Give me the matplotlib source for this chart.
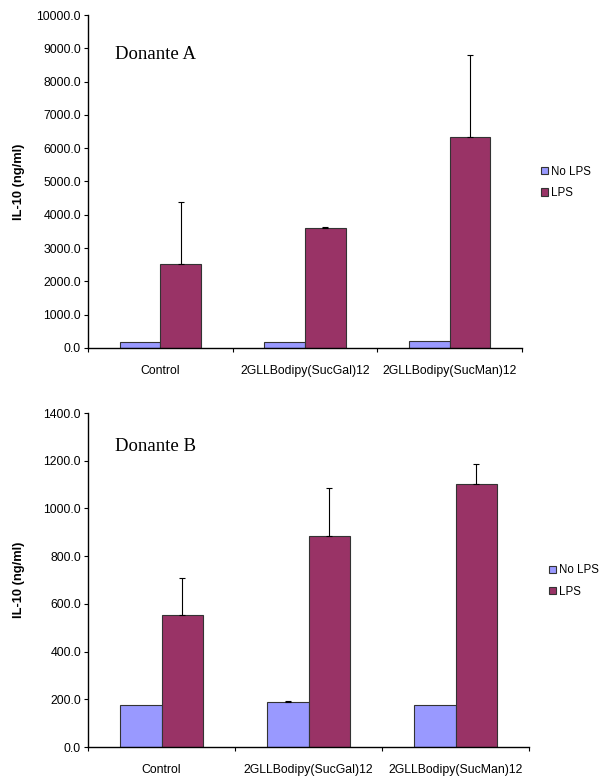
import matplotlib
matplotlib.use('Agg')
import matplotlib.pyplot as plt
import numpy as np

categories = ['Control', '2GLLBodipy(SucGal)12', '2GLLBodipy(SucMan)12']
series = ['No LPS', 'LPS']

# Donante A
a_nolps = [180, 195, 200]
a_lps = [2520, 3610, 6350]
a_nolps_err = [0, 0, 0]
a_lps_err = [1865, 30, 2440]

# Donante B
b_nolps = [176, 189, 176]
b_lps = [553, 883, 1102]
b_nolps_err = [0, 5, 0]
b_lps_err = [154, 203, 84]

colors = ['#9999FF', '#993366']
plt.rcParams['font.family'] = ['Liberation Sans', 'DejaVu Sans']

fig = plt.figure(figsize=(5.99, 7.78), dpi=100)
W, H = 599, 778
FS = 8.8


def panel(rect, nolps, lps, nolps_err, lps_err, ymax, ystep, title, title_y, leg_x):
    left, top, right, bottom = rect
    ax = fig.add_axes([left / W, 1 - bottom / H, (right - left) / W, (bottom - top) / H])
    x = np.arange(len(categories)) + 0.5
    w = 0.28
    for vals, errs, off, c, lab in [(nolps, nolps_err, -w / 2, colors[0], series[0]),
                                    (lps, lps_err, w / 2, colors[1], series[1])]:
        ax.bar(x + off, vals, width=w, color=c, edgecolor='#333333', linewidth=0.8, label=lab, zorder=2)
        e = np.array(errs)
        mask = e > 0
        ax.errorbar((x + off)[mask], np.array(vals)[mask], yerr=[np.zeros(mask.sum()), e[mask]],
                    fmt='none', ecolor='black', elinewidth=0.8, capsize=2.5, capthick=0.8, zorder=3)
    ax.set_xlim(0, len(categories))
    ax.set_ylim(0, ymax)
    ticks = np.arange(0, ymax + 1, ystep)
    ax.set_yticks(ticks)
    ax.set_yticklabels([f'{v:.1f}' for v in ticks], fontsize=FS)
    ax.set_xticks(np.arange(len(categories) + 1))
    ax.set_xticklabels([])
    for xi, lab in zip(x, categories):
        ax.annotate(lab, (xi, 0), xycoords=('data', 'axes fraction'), xytext=(0, -12),
                    textcoords='offset points', ha='center', va='top', fontsize=FS)
    ax.tick_params(axis='both', direction='out', length=3, width=0.8, pad=2)
    for s in ['top', 'right']:
        ax.spines[s].set_visible(False)
    for s in ['left', 'bottom']:
        ax.spines[s].set_linewidth(1.0)
    ax.set_ylabel('IL-10 (ng/ml)', fontsize=9.3, fontweight='bold')
    ax.yaxis.set_label_coords(-63 / (right - left), 0.5)
    ax.text(0.062, title_y, title, transform=ax.transAxes, fontsize=13.5,
            family=['Liberation Serif', 'DejaVu Serif'], va='center', ha='left')
    ax.legend(loc='center left', bbox_to_anchor=((leg_x - left) / (right - left), 0.497),
              frameon=False, fontsize=8.3, handlelength=0.6, handleheight=0.6,
              handletextpad=0.3, labelspacing=0.8, borderaxespad=0, borderpad=0)
    return ax


panel((88, 15, 522, 348), a_nolps, a_lps, a_nolps_err, a_lps_err, 10000, 1000, 'Donante A', 0.88, 541)
panel((88, 413, 529, 747), b_nolps, b_lps, b_nolps_err, b_lps_err, 1400, 200, 'Donante B', 0.90, 549)

fig.savefig('out.png', dpi=100)
